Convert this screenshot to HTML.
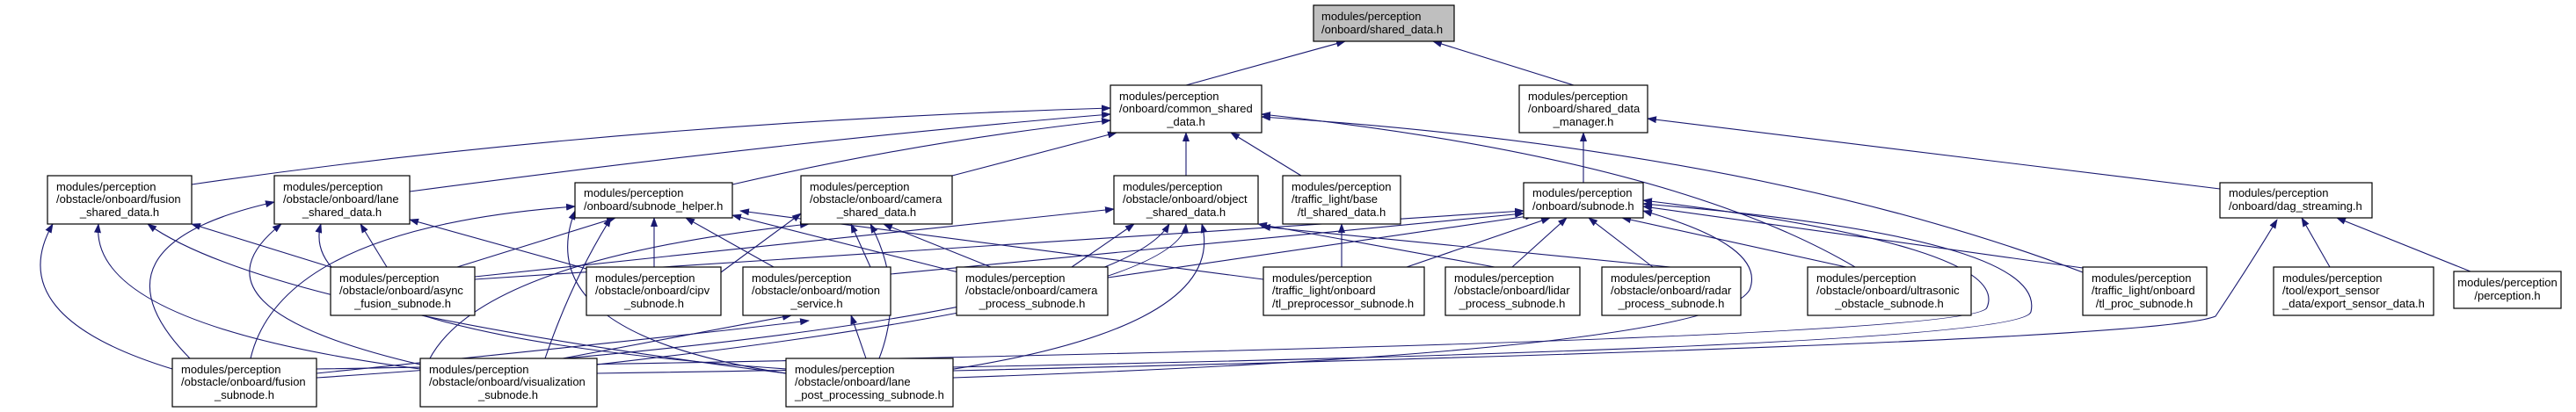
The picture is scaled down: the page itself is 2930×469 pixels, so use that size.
<!DOCTYPE html>
<html><head><meta charset="utf-8"><style>
html,body{margin:0;padding:0;background:#fff;}
svg{display:block;}
text{font-family:"Liberation Sans",sans-serif;font-size:13px;fill:#000;}
.e{fill:none;stroke:#191970;stroke-width:1.1;}
.n{fill:#fff;stroke:#000;stroke-width:1.2;}
</style></head><body>
<svg width="2930" height="469" viewBox="0 0 2930 469" xmlns="http://www.w3.org/2000/svg">
<defs>
<marker id="a" markerWidth="11" markerHeight="8" refX="10" refY="4" orient="auto" markerUnits="userSpaceOnUse">
<path d="M0,0 L11,4 L0,8 z" fill="#191970"/>
</marker>
</defs>
<g marker-end="url(#a)">
<path class="e" d="M1349,97 L1530,47"/>
<path class="e" d="M1790,97 L1630,47"/>
<path class="e" d="M218,210 Q700,140 1263,123"/>
<path class="e" d="M466,218 Q900,160 1263,130"/>
<path class="e" d="M833,210 Q1050,160 1263,137"/>
<path class="e" d="M1083,200 L1270,151"/>
<path class="e" d="M1349,200 L1349,151"/>
<path class="e" d="M1480,200 L1400,151"/>
<path class="e" d="M2110,304 Q1900,180 1435,130"/>
<path class="e" d="M2369,310 Q2000,170 1435,133"/>
<path class="e" d="M1801,208 L1801,151"/>
<path class="e" d="M2525,215 L1874,135"/>
<path class="e" d="M2650,304 L2618,248"/>
<path class="e" d="M2810,309 L2658,248"/>
<path class="e" d="M1084,422 Q2450,390 2520,360 Q2560,300 2590,250"/>
<path class="e" d="M540,318 L1733,240"/>
<path class="e" d="M1260,316 L1745,245"/>
<path class="e" d="M1600,304 L1763,248"/>
<path class="e" d="M1720,304 L1782,248"/>
<path class="e" d="M1880,304 L1807,248"/>
<path class="e" d="M2100,304 L1845,248"/>
<path class="e" d="M2369,305 L1869,235"/>
<path class="e" d="M360,420 Q2250,390 2260,350 Q2290,280 1869,228"/>
<path class="e" d="M679,425 Q2300,400 2310,355 Q2330,270 1869,232"/>
<path class="e" d="M1084,430 Q1950,400 1990,330 Q2010,280 1869,240"/>
<path class="e" d="M1013,312 L1733,243"/>
<path class="e" d="M520,304 L700,248"/>
<path class="e" d="M744,304 L744,248"/>
<path class="e" d="M880,304 L780,248"/>
<path class="e" d="M1090,310 L833,245"/>
<path class="e" d="M1437,318 L842,240"/>
<path class="e" d="M285,408 Q320,260 654,235"/>
<path class="e" d="M620,408 Q650,320 695,248"/>
<path class="e" d="M894,425 Q600,380 654,240"/>
<path class="e" d="M376,304 L218,255"/>
<path class="e" d="M196,420 Q0,360 60,255"/>
<path class="e" d="M478,420 Q100,370 112,255"/>
<path class="e" d="M894,425 Q300,350 168,255"/>
<path class="e" d="M440,304 L410,255"/>
<path class="e" d="M667,306 L466,250"/>
<path class="e" d="M216,408 Q90,280 312,230"/>
<path class="e" d="M478,415 Q200,350 320,255"/>
<path class="e" d="M894,420 Q330,380 365,255"/>
<path class="e" d="M820,310 L911,243"/>
<path class="e" d="M1127,304 L1005,255"/>
<path class="e" d="M990,304 L968,255"/>
<path class="e" d="M1000,408 Q1030,330 990,255"/>
<path class="e" d="M478,440 Q500,300 920,255"/>
<path class="e" d="M540,315 L1267,238"/>
<path class="e" d="M1219,304 L1290,255"/>
<path class="e" d="M360,430 Q1260,370 1330,255"/>
<path class="e" d="M679,415 Q1340,340 1349,255"/>
<path class="e" d="M1030,428 Q1400,380 1367,255"/>
<path class="e" d="M1700,304 L1431,255"/>
<path class="e" d="M1900,304 L1435,258"/>
<path class="e" d="M1526,304 L1526,255"/>
<path class="e" d="M360,425 Q800,380 920,365"/>
<path class="e" d="M640,408 L900,359"/>
<path class="e" d="M985,408 L968,359"/>
</g>
<rect x="1494" y="6" width="160" height="41" fill="#bfbfbf" stroke="#000" stroke-width="1.2"/>
<text x="1503" y="23">modules/perception</text><text x="1503" y="38">/onboard/shared_data.h</text>

<rect class="n" x="1263" y="97" width="172" height="54"/>
<text x="1273" y="114">modules/perception</text><text x="1273" y="128">/onboard/common_shared</text><text x="1349" y="143" text-anchor="middle">_data.h</text>

<rect class="n" x="1728" y="97" width="146" height="54"/>
<text x="1738" y="114">modules/perception</text><text x="1738" y="128">/onboard/shared_data</text><text x="1801" y="143" text-anchor="middle">_manager.h</text>

<rect class="n" x="54" y="200" width="164" height="55"/>
<text x="64" y="217">modules/perception</text><text x="64" y="231">/obstacle/onboard/fusion</text><text x="136" y="246" text-anchor="middle">_shared_data.h</text>

<rect class="n" x="312" y="200" width="154" height="55"/>
<text x="322" y="217">modules/perception</text><text x="322" y="231">/obstacle/onboard/lane</text><text x="389" y="246" text-anchor="middle">_shared_data.h</text>

<rect class="n" x="654" y="208" width="179" height="40"/>
<text x="664" y="224">modules/perception</text><text x="664" y="239">/onboard/subnode_helper.h</text>

<rect class="n" x="911" y="200" width="172" height="55"/>
<text x="921" y="217">modules/perception</text><text x="921" y="231">/obstacle/onboard/camera</text><text x="997" y="246" text-anchor="middle">_shared_data.h</text>

<rect class="n" x="1267" y="200" width="164" height="55"/>
<text x="1277" y="217">modules/perception</text><text x="1277" y="231">/obstacle/onboard/object</text><text x="1349" y="246" text-anchor="middle">_shared_data.h</text>

<rect class="n" x="1459" y="200" width="134" height="55"/>
<text x="1469" y="217">modules/perception</text><text x="1469" y="231">/traffic_light/base</text><text x="1526" y="246" text-anchor="middle">/tl_shared_data.h</text>

<rect class="n" x="1733" y="208" width="136" height="40"/>
<text x="1743" y="224">modules/perception</text><text x="1743" y="239">/onboard/subnode.h</text>

<rect class="n" x="2525" y="208" width="173" height="40"/>
<text x="2535" y="224">modules/perception</text><text x="2535" y="239">/onboard/dag_streaming.h</text>

<rect class="n" x="376" y="304" width="164" height="55"/>
<text x="386" y="321">modules/perception</text><text x="386" y="335">/obstacle/onboard/async</text><text x="458" y="350" text-anchor="middle">_fusion_subnode.h</text>

<rect class="n" x="667" y="304" width="153" height="55"/>
<text x="677" y="321">modules/perception</text><text x="677" y="335">/obstacle/onboard/cipv</text><text x="744" y="350" text-anchor="middle">_subnode.h</text>

<rect class="n" x="845" y="304" width="168" height="55"/>
<text x="855" y="321">modules/perception</text><text x="855" y="335">/obstacle/onboard/motion</text><text x="929" y="350" text-anchor="middle">_service.h</text>

<rect class="n" x="1088" y="304" width="172" height="55"/>
<text x="1098" y="321">modules/perception</text><text x="1098" y="335">/obstacle/onboard/camera</text><text x="1174" y="350" text-anchor="middle">_process_subnode.h</text>

<rect class="n" x="1437" y="304" width="183" height="55"/>
<text x="1447" y="321">modules/perception</text><text x="1447" y="335">/traffic_light/onboard</text><text x="1447" y="350">/tl_preprocessor_subnode.h</text>

<rect class="n" x="1644" y="304" width="153" height="55"/>
<text x="1654" y="321">modules/perception</text><text x="1654" y="335">/obstacle/onboard/lidar</text><text x="1720" y="350" text-anchor="middle">_process_subnode.h</text>

<rect class="n" x="1822" y="304" width="158" height="55"/>
<text x="1832" y="321">modules/perception</text><text x="1832" y="335">/obstacle/onboard/radar</text><text x="1901" y="350" text-anchor="middle">_process_subnode.h</text>

<rect class="n" x="2056" y="304" width="186" height="55"/>
<text x="2066" y="321">modules/perception</text><text x="2066" y="335">/obstacle/onboard/ultrasonic</text><text x="2149" y="350" text-anchor="middle">_obstacle_subnode.h</text>

<rect class="n" x="2369" y="304" width="141" height="55"/>
<text x="2379" y="321">modules/perception</text><text x="2379" y="335">/traffic_light/onboard</text><text x="2439" y="350" text-anchor="middle">/tl_proc_subnode.h</text>

<rect class="n" x="2586" y="304" width="182" height="55"/>
<text x="2596" y="321">modules/perception</text><text x="2596" y="335">/tool/export_sensor</text><text x="2596" y="350">_data/export_sensor_data.h</text>

<rect class="n" x="2791" y="309" width="122" height="42"/>
<text x="2852" y="326" text-anchor="middle">modules/perception</text><text x="2852" y="341" text-anchor="middle">/perception.h</text>

<rect class="n" x="196" y="408" width="164" height="55"/>
<text x="206" y="425">modules/perception</text><text x="206" y="439">/obstacle/onboard/fusion</text><text x="278" y="454" text-anchor="middle">_subnode.h</text>

<rect class="n" x="478" y="408" width="201" height="55"/>
<text x="488" y="425">modules/perception</text><text x="488" y="439">/obstacle/onboard/visualization</text><text x="578" y="454" text-anchor="middle">_subnode.h</text>

<rect class="n" x="894" y="408" width="190" height="55"/>
<text x="904" y="425">modules/perception</text><text x="904" y="439">/obstacle/onboard/lane</text><text x="904" y="454">_post_processing_subnode.h</text>
</svg>
</body></html>
